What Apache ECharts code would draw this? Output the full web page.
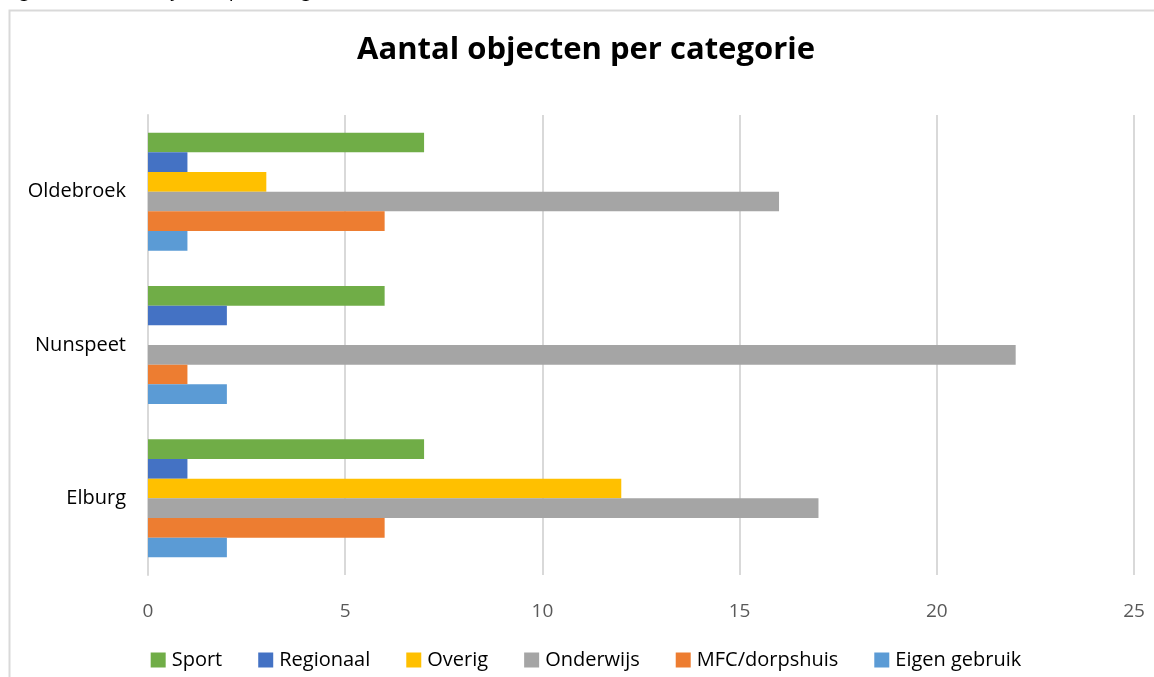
<!DOCTYPE html>
<html>
<head>
<meta charset="utf-8">
<script src="https://cdn.jsdelivr.net/npm/echarts@6/dist/echarts.min.js"></script>
<style>
  html, body { margin: 0; padding: 0; background: #fff; overflow: hidden; }
  #chart { width: 1172px; height: 677px; }
</style>
</head>
<body>
<div id="chart"></div>
<script>
// gemeenten (onder -> boven, zoals in Excel)
var gemeenten = ['Elburg', 'Nunspeet', 'Oldebroek'];
var xTicks = [0, 5, 10, 15, 20, 25];

var categorieen = ['Sport', 'Regionaal', 'Overig', 'Onderwijs', 'MFC/dorpshuis', 'Eigen gebruik'];
var kleuren = ['#70AD47', '#4472C4', '#FFC000', '#A5A5A5', '#ED7D31', '#5B9BD5'];

// aantallen per categorie: [Elburg, Nunspeet, Oldebroek]
var sport = [7, 6, 7];
var regionaal = [1, 2, 1];
var overig = [12, 0, 3];
var onderwijs = [17, 22, 16];
var mfc = [6, 1, 6];
var eigenGebruik = [2, 2, 1];

var waarden = [sport, regionaal, overig, onderwijs, mfc, eigenGebruik];

var font = '"Open Sans", "Noto Sans", sans-serif';

var series = [];
for (let i = 0; i < categorieen.length; i++) {
    series.push({
        name: categorieen[i],
        type: 'bar',
        data: waarden[i],
        itemStyle: { color: kleuren[i] },
        barGap: '0%',
        barCategoryGap: '23%',
        silent: true
    });
}

var option = {
    backgroundColor: '#fff',
    animation: false,
    title: {
        text: 'Aantal objecten per categorie',
        left: 'center',
        top: 30,
        textStyle: {
            fontFamily: font,
            fontSize: 31,
            fontWeight: 'bold',
            color: '#000'
        }
    },
    graphic: [
        {
            type: 'rect',
            shape: { x: 9.5, y: 10.5, width: 1300, height: 800 },
            style: { fill: 'none', stroke: '#d9d9d9', lineWidth: 2 },
            silent: true
        },
        {
            type: 'text',
            x: 6,
            y: 0,
            style: {
                text: 'Figuur 1: Aantal objecten per categorie',
                font: 'italic 20px ' + font,
                fill: '#000',
                verticalAlign: 'bottom'
            },
            silent: true
        }
    ],
    legend: {
        data: categorieen,
        left: 'center',
        top: 645,
        itemWidth: 15,
        itemHeight: 15,
        itemGap: 36,
        icon: 'rect',
        textStyle: {
            fontFamily: font,
            fontSize: 20,
            color: '#000',
            padding: [0, 0, 0, 1]
        }
    },
    grid: {
        left: 148,
        right: 38,
        top: 115,
        bottom: 102
    },
    xAxis: {
        type: 'value',
        min: 0,
        max: 25,
        interval: 5,
        axisLine: { show: false },
        axisTick: { show: false },
        splitLine: { lineStyle: { color: '#d9d9d9', width: 2 } },
        axisLabel: {
            margin: 27,
            fontFamily: font,
            fontSize: 19,
            color: '#595959'
        }
    },
    yAxis: {
        type: 'category',
        data: gemeenten,
        axisLine: { lineStyle: { color: '#d9d9d9', width: 2 } },
        axisTick: { show: false },
        axisLabel: {
            margin: 22,
            fontFamily: font,
            fontSize: 20,
            color: '#000',
            lineHeight: 20,
            padding: [10, 0, 0, 0]
        }
    },
    series: series
};

var myChart = echarts.init(document.getElementById('chart'));
myChart.setOption(option);
</script>
</body>
</html>
